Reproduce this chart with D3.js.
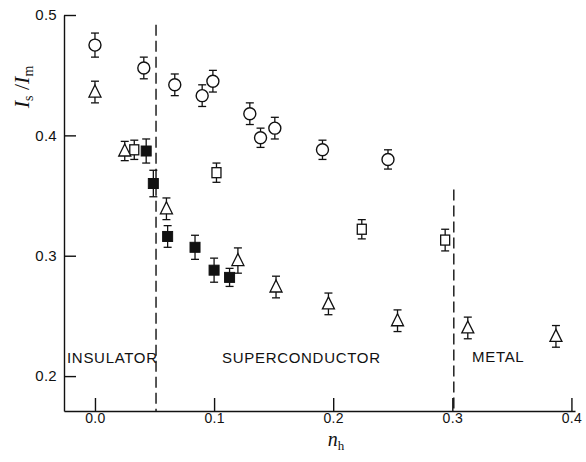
<!DOCTYPE html>
<html>
<head>
<meta charset="utf-8">
<script src="https://cdn.jsdelivr.net/npm/d3@7"></script>
<style>
  html, body { margin: 0; padding: 0; background: #fff; }
  svg { display: block; }
  .tick text { font-family: "Liberation Sans", Arial, sans-serif; font-size: 15px; fill: #111; letter-spacing: 0.3px; }
  .region { font-family: "Liberation Sans", Arial, sans-serif; font-size: 15px; fill: #111; letter-spacing: 0.7px; }
</style>
</head>
<body>
<script>
// Hole concentration n_h and intensity ratio Is/Im for each sample set
const circleX = [0.000, 0.041, 0.067, 0.090, 0.099, 0.130, 0.139, 0.151, 0.191, 0.246];
const circleY = [0.475, 0.456, 0.442, 0.433, 0.445, 0.418, 0.398, 0.406, 0.388, 0.380];
const circleErr = [0.010, 0.009, 0.009, 0.009, 0.009, 0.009, 0.008, 0.009, 0.008, 0.008];

const openSqX = [0.033, 0.102, 0.224, 0.294];
const openSqY = [0.388, 0.369, 0.322, 0.313];
const openSqErr = [0.008, 0.008, 0.008, 0.009];

const filledSqX = [0.043, 0.049, 0.061, 0.084, 0.100, 0.113];
const filledSqY = [0.387, 0.360, 0.316, 0.307, 0.288, 0.282];
const filledSqErr = [0.010, 0.011, 0.009, 0.010, 0.010, 0.0075];

const triX = [0.000, 0.025, 0.060, 0.120, 0.152, 0.196, 0.254, 0.313, 0.387];
const triY = [0.436, 0.387, 0.339, 0.296, 0.274, 0.260, 0.246, 0.240, 0.233];
const triErr = [0.009, 0.008, 0.009, 0.0105, 0.009, 0.009, 0.009, 0.009, 0.009];

// Phase boundaries (n_h) and the upper end of each dashed line (Is/Im)
const boundaryX = [0.05, 0.30];
const boundaryTop = [0.492, 0.355];

const xTicks = [0.0, 0.1, 0.2, 0.3, 0.4];
const xTickLabels = ["0.0", "0.1", "0.2", "0.3", "0.4"];
const yTicks = [0.2, 0.3, 0.4, 0.5];
const yTickLabels = ["0.2", "0.3", "0.4", "0.5"];

const regionNames = ["INSULATOR", "SUPERCONDUCTOR", "METAL"];

const W = 586, H = 462;
const svg = d3.select("body").append("svg").attr("width", W).attr("height", H);

const x = d3.scaleLinear().domain([-0.026, 0.403]).range([64, 575]);
const y = d3.scaleLinear().domain([0.171, 0.5]).range([411, 15]);

const ink = "#111";

// Axes with inward ticks
const xAxis = d3.axisBottom(x).tickValues(xTicks)
  .tickFormat((d, i) => xTickLabels[i]).tickSizeInner(-13).tickSizeOuter(0).tickPadding(2);
const yAxis = d3.axisLeft(y).tickValues(yTicks)
  .tickFormat((d, i) => yTickLabels[i]).tickSizeInner(-12).tickSizeOuter(0).tickPadding(7);

const gx = svg.append("g").attr("transform", `translate(0,${y.range()[0]})`).call(xAxis);
const gy = svg.append("g").attr("transform", `translate(${x.range()[0]},0)`).call(yAxis);
[gx, gy].forEach(g => {
  g.select(".domain").attr("stroke", ink).attr("stroke-width", 1.4);
  g.selectAll(".tick line").attr("stroke", ink).attr("stroke-width", 1.4);
});
gx.selectAll(".tick text").attr("dy", "0.72em").style("font-size", "14px");

// Dashed phase boundaries
svg.append("g").selectAll("line").data(boundaryX).join("line")
  .attr("x1", d => x(d) + 1.5).attr("x2", d => x(d) + 1.5)
  .attr("y1", (d, i) => y(boundaryTop[i])).attr("y2", y.range()[0])
  .attr("stroke", ink).attr("stroke-width", 1.4).attr("stroke-dasharray", "11,5");

// Region labels
const regionPos = [[67, 363], [222, 363], [472, 362]];
svg.append("g").selectAll("text").data(regionNames).join("text")
  .attr("class", "region")
  .attr("x", (d, i) => regionPos[i][0]).attr("y", (d, i) => regionPos[i][1])
  .text(d => d);

// Error bars with caps
function errorBars(xs, ys, es) {
  const g = svg.append("g").attr("stroke", ink).attr("stroke-width", 1.3).attr("fill", "none");
  xs.forEach((xv, i) => {
    const cx = x(xv), top = y(ys[i] + es[i]), bot = y(ys[i] - es[i]);
    g.append("line").attr("x1", cx).attr("x2", cx).attr("y1", top).attr("y2", bot);
    g.append("line").attr("x1", cx - 4).attr("x2", cx + 4).attr("y1", top).attr("y2", top);
    g.append("line").attr("x1", cx - 4).attr("x2", cx + 4).attr("y1", bot).attr("y2", bot);
  });
}

errorBars(circleX, circleY, circleErr);
errorBars(openSqX, openSqY, openSqErr);
errorBars(filledSqX, filledSqY, filledSqErr);
errorBars(triX, triY, triErr);

// Open circles
svg.append("g").selectAll("circle").data(circleX).join("circle")
  .attr("cx", d => x(d)).attr("cy", (d, i) => y(circleY[i])).attr("r", 6)
  .attr("fill", "#fff").attr("stroke", ink).attr("stroke-width", 1.4);

// Open squares
svg.append("g").selectAll("rect").data(openSqX).join("rect")
  .attr("x", d => x(d) - 4.5).attr("y", (d, i) => y(openSqY[i]) - 5)
  .attr("width", 9).attr("height", 10)
  .attr("fill", "#fff").attr("stroke", ink).attr("stroke-width", 1.3);

// Filled squares
svg.append("g").selectAll("rect").data(filledSqX).join("rect")
  .attr("x", d => x(d) - 5).attr("y", (d, i) => y(filledSqY[i]) - 5)
  .attr("width", 10).attr("height", 10)
  .attr("fill", ink).attr("stroke", ink).attr("stroke-width", 1);

// Open triangles
const tri = "M0,-7L6,5L-6,5Z";
svg.append("g").selectAll("path").data(triX).join("path")
  .attr("d", tri)
  .attr("transform", (d, i) => `translate(${x(d)},${y(triY[i])})`)
  .attr("fill", "#fff").attr("stroke", ink).attr("stroke-width", 1.3).attr("stroke-linejoin", "miter");

// Axis titles
const serif = '"Liberation Serif", "DejaVu Serif", serif';
const yl = svg.append("text")
  .attr("transform", "translate(29,87) rotate(-90)")
  .attr("text-anchor", "middle")
  .attr("font-family", serif).attr("font-size", 22).attr("fill", ink);
yl.append("tspan").attr("font-style", "italic").text("I");
yl.append("tspan").attr("font-size", 14).attr("dy", 4).text("s");
yl.append("tspan").attr("dy", -4).text(" /");
yl.append("tspan").attr("font-style", "italic").text("I");
yl.append("tspan").attr("font-size", 14).attr("dy", 4).text("m");

const xl = svg.append("text")
  .attr("x", 336).attr("y", 446)
  .attr("text-anchor", "middle")
  .attr("font-family", serif).attr("font-size", 20).attr("fill", ink);
xl.append("tspan").attr("font-style", "italic").text("n");
xl.append("tspan").attr("font-size", 13).attr("dy", 4).text("h");
</script>
</body>
</html>
